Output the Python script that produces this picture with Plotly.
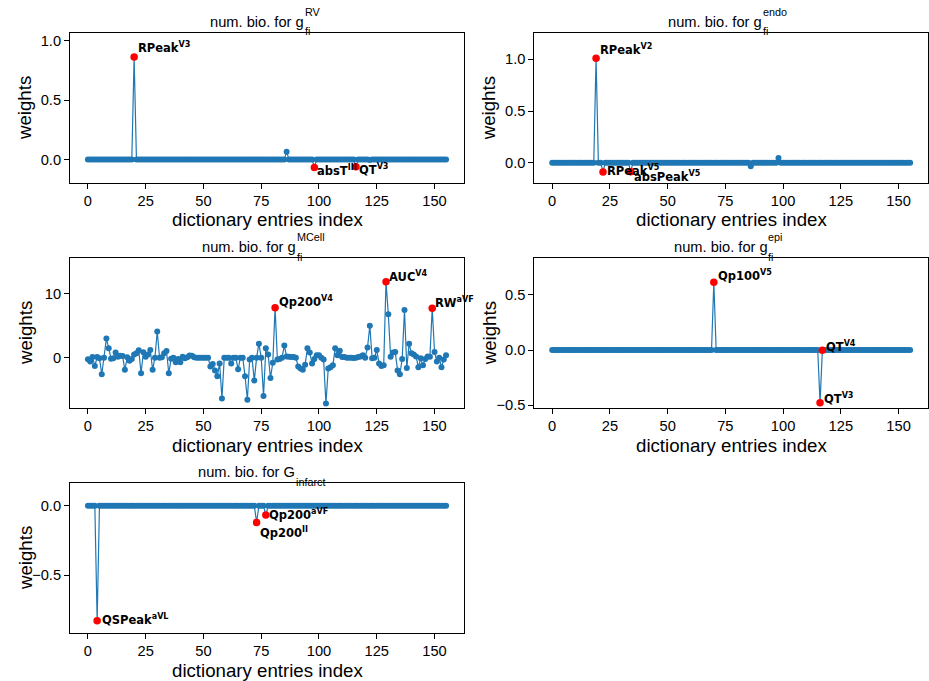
import plotly.graph_objects as go

N = 156
index = list(range(N))

# ---- data ----
rv_nz_idx = [20, 86, 98, 116, 122]
rv_nz_val = [0.865, 0.065, -0.068, -0.062, -0.005]
rv_hi_idx = [20, 98, 116]
rv_hi_lab = ["RPeak<sup>V3</sup>", "absT<sup>III</sup>", "QT<sup>V3</sup>"]

endo_nz_idx = [19, 22, 34, 86, 98]
endo_nz_val = [1.01, -0.09, -0.087, -0.035, 0.045]
endo_hi_idx = [19, 22, 34]
endo_hi_lab = ["RPeak<sup>V2</sup>", "RPeak<sup>V5</sup>", "absPeak<sup>V5</sup>"]

mcell_val = [
    -0.25, -0.6, 0.1, -1.3, 0.1, -0.1, -2.6, 0.0, 3.0, 1.5,
    -0.15, -0.1, 0.8, 0.15, 0.3, 0.25, -1.9, 0.05, -0.5, -0.2,
    0.5, 0.7, 1.15, -2.45, 0.85, 0.15, 0.5, 1.2, -1.9, 0.0,
    4.1, 0.0, 0.05, 0.7, 1.05, -2.45, -0.15, 0.0, -0.7, -0.2,
    -0.7, 0.15, -0.1, 0.05, 0.35, 0.3, 0.05, 0.0, 0.0, 0.0,
    0.0, 0.0, 0.0, -1.4, -1.0, -2.0, -2.9, -0.9, -6.4, 0.0,
    0.0, 0.0, -0.9, 0.0, 0.0, -1.8, 0.0, 0.0, -2.9, -6.6,
    -0.3, 0.0, -3.6, 0.0, 2.2, 0.0, -6.0, 1.5, 0.5, -3.2,
    -0.8, 7.85, -0.3, -0.2, 0.0, 1.9, 0.2, 0.15, 0.1, 0.1,
    0.0, -1.4, -1.7, -1.9, -1.1, 1.5, 0.8, -0.9, -0.2, 0.4,
    0.4, 0.0, -0.3, -7.2, -1.7, -1.5, -1.2, 1.5, 0.4, 1.1,
    0.1, 0.1, 0.0, 0.0, 0.0, -0.05, 0.0, 0.1, 0.2, 0.4,
    0.0, 1.6, 5.0, -0.1, 0.0, 1.2, -0.9, -1.3, -1.2, 11.9,
    6.8, 0.15, 0.8, 0.9, -2.0, -2.6, -0.2, 7.5, -1.6, 2.2,
    0.7, 0.5, 0.2, -1.5, -0.1, -1.2, -0.2, 0.2, 0.15, 7.75,
    0.9, -0.6, 0.0, -1.5, -0.3, 0.4,
]
mcell_hi_idx = [81, 129, 149]
mcell_hi_lab = ["Qp200<sup>V4</sup>", "AUC<sup>V4</sup>", "RW<sup>aVF</sup>"]

epi_nz_idx = [70, 116, 117]
epi_nz_val = [0.615, -0.48, -0.003]
epi_hi_idx = [70, 117, 116]
epi_hi_lab = ["Qp100<sup>V5</sup>", "QT<sup>V4</sup>", "QT<sup>V3</sup>"]

inf_nz_idx = [4, 73, 77]
inf_nz_val = [-0.829, -0.12, -0.067]
inf_hi_idx = [4, 73, 77]
inf_hi_lab = ["QSPeak<sup>aVL</sup>", "Qp200<sup>II</sup>", "Qp200<sup>aVF</sup>"]

x_ticks = [0, 25, 50, 75, 100, 125, 150]


def sparse(idx, val):
    y = [0.0] * N
    for i, v in zip(idx, val):
        y[i] = v
    return y


rv_val = sparse(rv_nz_idx, rv_nz_val)
endo_val = sparse(endo_nz_idx, endo_nz_val)
epi_val = sparse(epi_nz_idx, epi_nz_val)
inf_val = sparse(inf_nz_idx, inf_nz_val)

# ---- layout geometry (pixels) ----
W, H = 929, 681
colx = [(70, 464), (534.3, 928)]
rowy = [(33.3, 182.7), (258.3, 407.7), (483.3, 632.7)]

BLUE = "#1f77b4"
TXT = "Liberation Sans, Arial, sans-serif"
LBL = "DejaVu Sans, Verdana, sans-serif"

panels = [
    dict(y=rv_val, hi=rv_hi_idx, lab=rv_hi_lab, col=0, row=0,
         rng=[-0.197, 1.065], tv=[0.0, 0.5, 1.0], tt=["0.0", "0.5", "1.0"],
         main="num. bio. for g", sub="fi", sup="RV", mx=-58.7,
         shifts=[(2, 8), (0.5, -5), (1.5, -4)]),
    dict(y=endo_val, hi=endo_hi_idx, lab=endo_hi_lab, col=1, row=0,
         rng=[-0.194, 1.252], tv=[0.0, 0.5, 1.0], tt=["0.0", "0.5", "1.0"],
         main="num. bio. for g", sub="fi", sup="endo", mx=-65.2,
         shifts=[(2, 7.6), (2, 0), (1.5, -6.7)]),
    dict(y=mcell_val, hi=mcell_hi_idx, lab=mcell_hi_lab, col=0, row=1,
         rng=[-7.85, 15.6], tv=[0, 10], tt=["0", "10"],
         main="num. bio. for g", sub="fi", sup="MCell", mx=-67,
         shifts=[(1.5, 4.4), (1, 4), (0.5, 4)]),
    dict(y=epi_val, hi=epi_hi_idx, lab=epi_hi_lab, col=1, row=1,
         rng=[-0.524, 0.833], tv=[-0.5, 0.0, 0.5], tt=["\u22120.5", "0.0", "0.5"],
         main="num. bio. for g", sub="fi", sup="epi", mx=-59.5,
         shifts=[(2, 5.6), (1.5, 2.3), (2, 2.7)]),
    dict(y=inf_val, hi=inf_hi_idx, lab=inf_hi_lab, col=0, row=2,
         rng=[-0.916, 0.162], tv=[-0.5, 0.0], tt=["\u22120.5", "0.0"],
         main="num. bio. for G", sub="infarct", sup=None, mx=-71.3,
         shifts=[(3, 0), (1, -12), (1, -1)]),
]

MAIN_W = {"num. bio. for g": 93.8, "num. bio. for G": 97.0}

fig = go.Figure()
annotations = []
for k, p in enumerate(panels):
    n = k + 1
    xa = "x" if n == 1 else f"x{n}"
    ya = "y" if n == 1 else f"y{n}"
    x0, x1 = colx[p["col"]]
    y0, y1 = rowy[p["row"]]
    xd = [x0 / W, x1 / W]
    yd = [1 - y1 / H, 1 - y0 / H]
    fig.add_trace(go.Scatter(
        x=index, y=p["y"], mode="lines+markers", xaxis=xa, yaxis=ya,
        line=dict(color=BLUE, width=1.2), marker=dict(color=BLUE, size=6),
        showlegend=False, hoverinfo="skip"))
    fig.add_trace(go.Scatter(
        x=p["hi"], y=[p["y"][i] for i in p["hi"]], mode="markers",
        xaxis=xa, yaxis=ya, marker=dict(color="red", size=7.5),
        showlegend=False, hoverinfo="skip"))
    axcommon = dict(showline=True, mirror=True, linecolor="black", linewidth=1,
                    ticks="outside", ticklen=5, tickwidth=1, tickcolor="black",
                    showgrid=False, zeroline=False, automargin=False,
                    tickfont=dict(family=TXT, size=14.67, color="black"))
    lay_x = dict(domain=xd, anchor=ya, range=[-7.75, 162.75],
                 tickvals=x_ticks, ticktext=[str(t) for t in x_ticks], **axcommon)
    lay_y = dict(domain=yd, anchor=xa, range=p["rng"],
                 tickvals=p["tv"], ticktext=p["tt"], **axcommon)
    fig.update_layout(**{("xaxis" if n == 1 else f"xaxis{n}"): lay_x,
                         ("yaxis" if n == 1 else f"yaxis{n}"): lay_y})
    xdom = f"{xa} domain"
    ydom = f"{ya} domain"
    # axis titles
    annotations.append(dict(text="dictionary entries index", xref=xdom, yref=ydom,
                            x=0.5, y=0, xanchor="center", yanchor="middle",
                            yshift=-37.3, showarrow=False,
                            font=dict(family=TXT, size=18.67, color="black")))
    annotations.append(dict(text="weights", xref=xdom, yref=ydom, x=0, y=0.5,
                            xanchor="center", yanchor="middle", xshift=-45,
                            textangle=-90, showarrow=False,
                            font=dict(family=TXT, size=18.67, color="black")))
    # title
    annotations.append(dict(text=p["main"], xref=xdom, yref=ydom, x=0.5, y=1,
                            xanchor="left", yanchor="middle", xshift=p["mx"],
                            yshift=11.7, showarrow=False,
                            font=dict(family=TXT, size=14.67, color="black")))
    sx = p["mx"] + MAIN_W[p["main"]] + 1
    annotations.append(dict(text=p["sub"], xref=xdom, yref=ydom, x=0.5, y=1,
                            xanchor="left", yanchor="middle", xshift=sx,
                            yshift=1.8, showarrow=False,
                            font=dict(family=TXT, size=10.8, color="black")))
    if p["sup"]:
        annotations.append(dict(text=p["sup"], xref=xdom, yref=ydom, x=0.5, y=1,
                                xanchor="left", yanchor="middle", xshift=sx,
                                yshift=21.5, showarrow=False,
                                font=dict(family=TXT, size=10.8, color="black")))
    # point labels
    for i, lab, (dx, dy) in zip(p["hi"], p["lab"], p["shifts"]):
        annotations.append(dict(text="<b>" + lab + "</b>", xref=xa, yref=ya,
                                x=i, y=p["y"][i], xanchor="left", yanchor="middle",
                                xshift=dx, yshift=dy + 1.5, showarrow=False,
                                font=dict(family=LBL, size=11.5, color="black")))

fig.update_layout(width=W, height=H, autosize=False,
                  margin=dict(l=0, r=0, t=0, b=0, pad=0),
                  plot_bgcolor="white", paper_bgcolor="white",
                  showlegend=False, annotations=annotations)

fig.write_html("out.html", config={"displayModeBar": False},
               post_script="document.body.style.margin='0';"
                           "document.body.style.overflow='hidden';")
